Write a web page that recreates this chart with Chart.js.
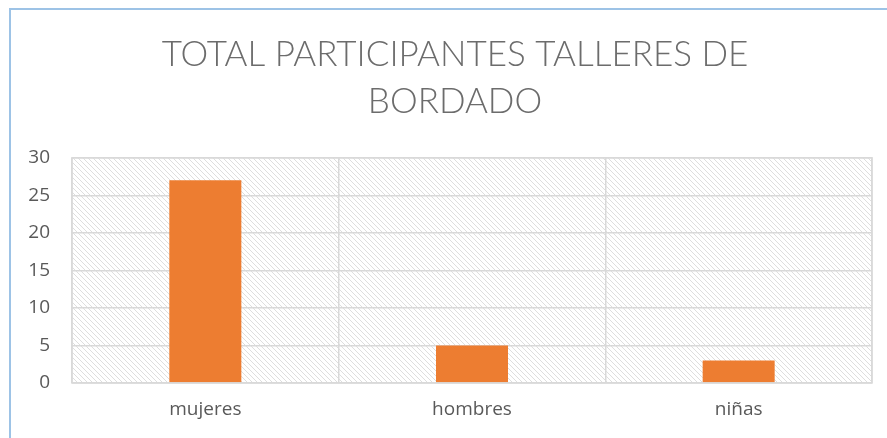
<!DOCTYPE html>
<html>
<head>
<meta charset="utf-8">
<script src="https://cdn.jsdelivr.net/npm/chart.js@4"></script>
<style>
	html, body { margin: 0; padding: 0; background: #fff; }
	#wrap { position: relative; width: 887px; height: 438px; }
	#frame { position: absolute; left: 9px; top: 8px; right: 0; bottom: 0; border-top: 2px solid #9dc3e6; border-left: 2px solid #9dc3e6; }
	canvas { position: absolute; left: 0; top: 0; }
</style>
</head>
<body>
<div id="wrap">
	<div id="frame"></div>
	<canvas id="chart-bordado" width="887" height="438"></canvas>
</div>
<script>
// Chart data
const CATEGORIES = ["mujeres", "hombres", "niñas"];
const PARTICIPANTES = [27, 5, 3];
const Y_TICKS = [0, 5, 10, 15, 20, 25, 30];
const TITLE_LINES = ["TOTAL PARTICIPANTES TALLERES DE", "BORDADO"];

const GRID_COLOR = "#d9d9d9";
const TEXT_COLOR = "#595959";

// Hatched plot background
const makeHatch = () => {
	const c = document.createElement("canvas");
	c.width = 5;
	c.height = 5;
	const g = c.getContext("2d");
	g.strokeStyle = "#dedede";
	g.lineWidth = 1;
	g.beginPath();
	g.moveTo(-1, -1);
	g.lineTo(6, 6);
	g.moveTo(-1, 4);
	g.lineTo(1, 6);
	g.moveTo(4, -1);
	g.lineTo(6, 1);
	g.stroke();
	return g.createPattern(c, "repeat");
};

const plotBackground = {
	id: "plotBackground",
	// title sits a little right of the canvas centre in the original
	afterLayout(chart) {
		if (chart.titleBlock) chart.titleBlock.left = 38;
	},
	beforeDraw(chart) {
		const { ctx, chartArea: a } = chart;
		ctx.save();
		ctx.fillStyle = makeHatch();
		ctx.fillRect(a.left, a.top, a.width, a.height);
		ctx.restore();
	},
	afterDatasetsDraw(chart) {
		const { ctx, chartArea: a } = chart;
		ctx.save();
		ctx.strokeStyle = GRID_COLOR;
		ctx.lineWidth = 1.5;
		ctx.strokeRect(a.left, a.top, a.width, a.height);
		ctx.restore();
	},
};

const CHART_CONFIG = {
	type: "bar",
	data: {
		labels: CATEGORIES,
		datasets: [
			{
				label: "Participantes",
				data: PARTICIPANTES,
				backgroundColor: "#ed7d31",
				borderWidth: 0,
				categoryPercentage: 0.27,
				barPercentage: 1,
			},
		],
	},
	options: {
		responsive: false,
		animation: false,
		layout: {
			padding: { left: 0, right: 15, top: 0, bottom: 0 },
		},
		plugins: {
			legend: { display: false },
			tooltip: { enabled: false },
			title: {
				display: true,
				text: TITLE_LINES,
				color: "#6c6c6c",
				font: { family: "Lato", size: 35, weight: 300, lineHeight: 1.34 },
				padding: { top: 31, bottom: 33 },
			},
		},
		scales: {
			x: {
				border: { display: false },
				grid: { color: GRID_COLOR, lineWidth: 1.5, drawTicks: false, offset: true },
				ticks: {
					color: TEXT_COLOR,
					font: { family: "Open Sans", size: 19 },
					padding: 15,
				},
				afterFit: (scale) => {
					scale.height = 55;
				},
			},
			y: {
				min: 0,
				max: 30,
				border: { display: false },
				grid: { color: GRID_COLOR, lineWidth: 1.5, drawTicks: false },
				afterBuildTicks: (scale) => {
					scale.ticks = Y_TICKS.map((v) => ({ value: v }));
				},
				ticks: {
					color: TEXT_COLOR,
					font: { family: "Open Sans", size: 19 },
					padding: 22,
				},
				afterFit: (scale) => {
					scale.width = 72;
				},
			},
		},
	},
	plugins: [plotBackground],
};

new Chart(document.getElementById("chart-bordado"), CHART_CONFIG);
</script>
</body>
</html>
